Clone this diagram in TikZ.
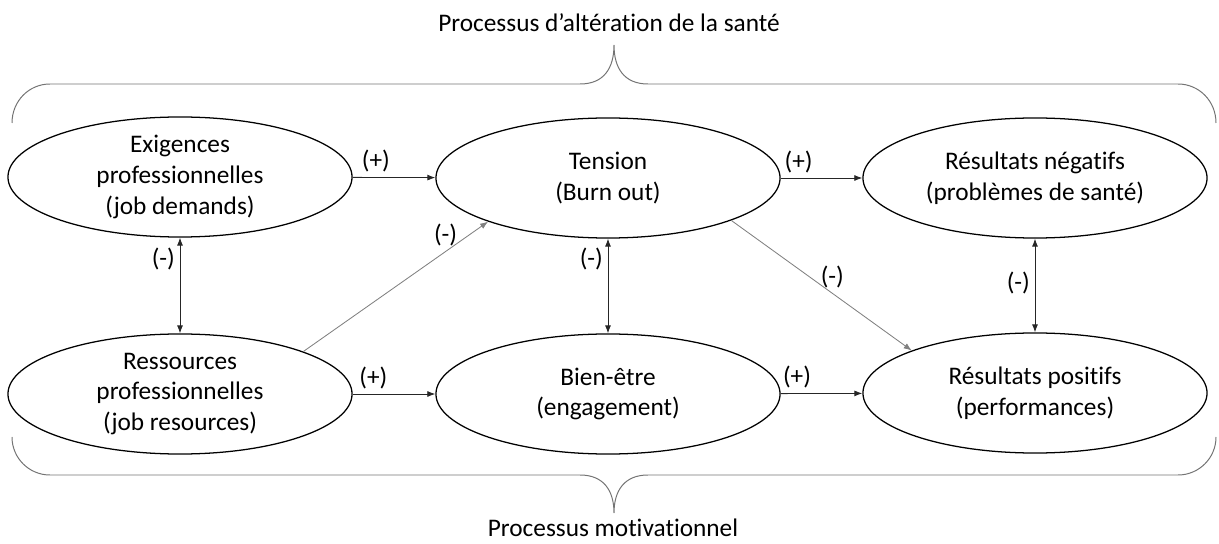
\documentclass[tikz,border=0pt]{standalone}
\usepackage{fontspec}
\setmainfont{Carlito}[Ligatures = {NoCommon, NoContextual}]
\usetikzlibrary{arrows.meta, shapes.geometric}
\tikzset{>={Latex[length=2mm,width=1.5mm]}}

\begin{document}
\begin{tikzpicture}[
    x = 0.025cm, y = -0.025cm,
    font = \fontsize{18}{21.8}\selectfont,
    bulle/.style = {ellipse, draw, line width = 0.9pt, minimum width = 8.6cm, minimum height = 3cm,
                    inner xsep = 0pt, inner ysep = -3pt, align = center},
    fl/.style = {<-, line width = 0.6pt, black!85, text = black},
    fl2/.style = {<->, line width = 0.6pt, black!85, text = black},
    fld/.style = {->, line width = 0.6pt, black!50, text = black},
    acc/.style = {line width = 0.7pt, black!55}
]
\useasboundingbox (0,0) rectangle (1219,544);

\node[bulle] (dem)  at (180,177)  {Exigences\\professionnelles\\(job demands)};
\node[bulle] (ten)  at (608,178)  {Tension\\(Burn out)};
\node[bulle] (neg)  at (1035,178) {Résultats négatifs\\(problèmes de santé)};
\node[bulle] (res)  at (180,394)  {Ressources\\professionnelles\\(job resources)};
\node[bulle] (bien) at (608,394)  {Bien-être\\(engagement)};
\node[bulle] (pos)  at (1035,393) {Résultats positifs\\(performances)};

\draw[fl] (ten) -- (dem) node[above, pos = 0.72] {(+)};
\draw[fl] (neg) -- (ten) node[above, pos = 0.78] {(+)};
\draw[fl] (bien) -- (res) node[above, pos = 0.75] {(+)};
\draw[fl] (pos) -- (bien) node[above, pos = 0.8] {(+)};

\draw[fl2] (dem) -- (res) node[left, pos = 0.22] {(-)};
\draw[fl2] (ten) -- (bien) node[left, pos = 0.22] {(-)};
\draw[fl2] (neg) -- (pos) node[left, pos = 0.47] {(-)};

\draw[fld] (res.19) -- (ten.200) node[above, pos = 0.77] {(-)};
\draw[fld] (ten.341) -- (pos.161) node[above, pos = 0.56] {(-)};

\draw[acc] (12,123) .. controls (12,101) and (29,84) .. (50,84) -- (580,84)
    .. controls (604,84) and (614,68) .. (614,45) .. controls (614,68) and (624,84) .. (648,84)
    -- (1178,84) .. controls (1199,84) and (1216,101) .. (1216,123);
\draw[acc] (12,437) .. controls (12,458) and (29,475) .. (50,475) -- (580,475)
    .. controls (604,475) and (614,491) .. (614,513) .. controls (614,491) and (624,475) .. (648,475)
    -- (1178,475) .. controls (1199,475) and (1216,458) .. (1216,437);

\node[anchor = base] (titreHaut) at (609,32)  {Processus d’altération de la santé};
\node[anchor = base] (titreBas)  at (613,537) {Processus motivationnel};

\end{tikzpicture}
\end{document}
